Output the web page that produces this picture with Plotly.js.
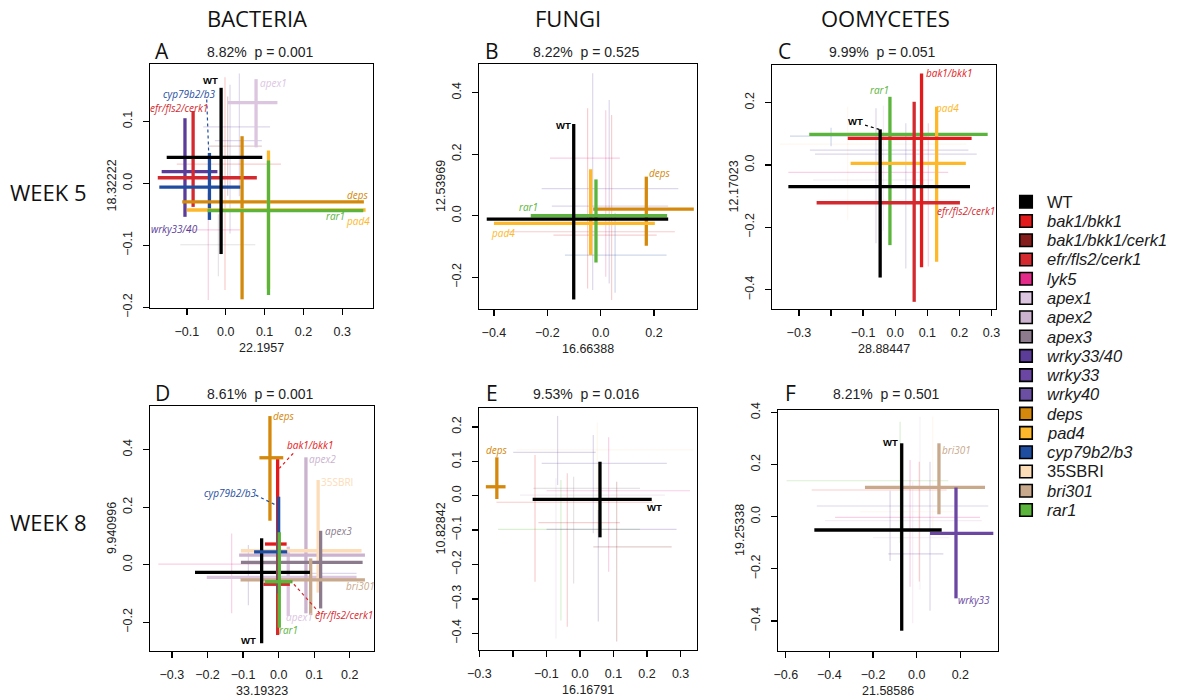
<!DOCTYPE html>
<html><head><meta charset="utf-8">
<script src="https://cdn.plot.ly/plotly-3.0.1.min.js"></script>
<style>html,body{margin:0;padding:0;background:#fff}#chart{width:1182px;height:700px}</style>
</head><body><div id="chart"></div>
<script>
const W = 1182, H = 700;

// ---------- legend ----------
const legendNames  = ['WT','bak1/bkk1','bak1/bkk1/cerk1','efr/fls2/cerk1','lyk5','apex1','apex2','apex3','wrky33/40','wrky33','wrky40','deps','pad4','cyp79b2/b3','35SBRI','bri301','rar1'];
const legendColors = ['#000000','#e31a1c','#861d1d','#d42a2f','#e52b8a','#dcc5df','#cbb2cf','#8b7b8c','#5b3d99','#6b47a3','#6a4fa2','#d4890c','#fdb92b','#1f4ea1','#fddcb8','#c9a98c','#5bb43c'];
const legendItalic = [0,1,1,1,1,1,1,1,1,1,1,1,1,1,0,1,1];

// ---------- panel A : bacteria week 5 ----------
const A_geno = ['bak1/bkk1','wrky33','wrky40','lyk5','apex3','bak1/bkk1/cerk1','apex1','wrky33/40','efr/fls2/cerk1','cyp79b2/b3','deps','pad4','rar1','WT'];
const A_bold = [0,0,0,0,0,0,1,1,1,1,1,1,1,1];
const A_cx  = [-0.002,0.011,0.035,-0.045,-0.019,0.005, 0.078,-0.105,-0.084,-0.042,0.042,0.110,0.110,-0.012];
const A_cy  = [0.031,0.069,0.091,-0.075,-0.099,0.060, 0.130,0.019,0.009,-0.006,-0.030,-0.043,-0.044,0.042];
const A_xlo = [-0.126,-0.028,-0.058,-0.100,-0.117,-0.045, 0.005,-0.165,-0.175,-0.171,-0.112,-0.100,-0.047,-0.152];
const A_xhi = [0.142,0.093,0.114,0.037,0.076,0.093, 0.133,-0.0215,0.080,0.038,0.3555,0.360,0.354,0.094];
const A_ylo = [-0.172,-0.081,-0.021,-0.188,-0.150,-0.020, 0.058,-0.054,-0.038,-0.059,-0.187,-0.170,-0.180,-0.114];
const A_yhi = [0.171,0.159,0.177,-0.016,-0.050,0.140, 0.168,0.105,0.1166,0.049,0.076,0.053,0.037,0.154];
const A_labText = ['WT','cyp79b2/b3','efr/fls2/cerk1','apex1','wrky33/40','deps','rar1','pad4'];
const A_labX = [-0.040,-0.094,-0.120,0.124,-0.133,0.340,0.283,0.340];
const A_labY = [0.166,0.1445,0.1215,0.162,-0.074,-0.019,-0.052,-0.060];
const A_leadGeno = ['cyp79b2/b3']; const A_leadX0 = [-0.049]; const A_leadY0 = [0.135]; const A_leadX1 = [-0.044]; const A_leadY1 = [0.051];
const A_xrange = [-0.195,0.379], A_yrange = [-0.201,0.1924];
const A_xticks = [-0.1,0,0.1,0.2,0.3], A_yticks = [-0.2,-0.1,0,0.1];

// ---------- panel B : fungi week 5 ----------
const B_geno = ['bak1/bkk1','wrky33','lyk5','efr/fls2/cerk1','wrky40','cyp79b2/b3','deps','pad4','rar1','WT'];
const B_bold = [0,0,0,0,0,0,1,1,1,1];
const B_cx  = [-0.049,0.032,0.019,0.041,-0.030,0.054, 0.171,-0.0375,-0.0176,-0.101];
const B_cy  = [-0.052,0.088,0.187,-0.063,0.031,-0.128, 0.0218,-0.025,0.0,-0.011];
const B_xlo = [-0.351,-0.221,-0.190,-0.177,-0.183,-0.134, -0.028,-0.40,-0.262,-0.427];
const B_xhi = [0.278,0.291,0.072,0.210,0.253,0.247, 0.349,0.203,0.249,0.253];
const B_ylo = [-0.236,-0.220,-0.198,-0.274,-0.241,-0.250, -0.0975,-0.128,-0.152,-0.272];
const B_yhi = [0.349,0.376,0.343,0.327,0.463,0.010, 0.127,0.151,0.118,0.298];
const B_labText = ['WT','rar1','pad4','deps'];
const B_labX = [-0.141,-0.272,-0.366,0.222];
const B_labY = [0.292,0.029,-0.055,0.138];
const B_leadGeno = []; const B_leadX0 = []; const B_leadY0 = []; const B_leadX1 = []; const B_leadY1 = [];
const B_xrange = [-0.456,0.361], B_yrange = [-0.303,0.493];
const B_xticks = [-0.4,-0.2,0,0.2], B_yticks = [-0.2,0,0.2,0.4];

// ---------- panel C : oomycetes week 5 ----------
const C_geno = ['35SBRI','wrky33','wrky40','lyk5','apex2','cyp79b2/b3','rar1','pad4','efr/fls2/cerk1','bak1/bkk1','WT'];
const C_bold = [0,0,0,0,0,0,1,1,1,1,1];
const C_cx  = [-0.148,-0.060,0.033,0.103,-0.037,-0.20, -0.0165,0.129,0.059,0.082,-0.047];
const C_cy  = [0.067,0.048,0.035,-0.0235,-0.048,0.093, 0.0985,0.0054,-0.121,0.0856,-0.0696];
const C_xlo = [-0.359,-0.266,-0.250,-0.333,-0.256,-0.328, -0.268,-0.139,-0.245,-0.148,-0.333];
const C_xhi = [0.222,0.228,0.254,0.165,0.118,0.10, 0.288,0.220,0.2016,0.238,0.233];
const C_ylo = [-0.176,-0.251,-0.332,-0.326,-0.21,0.06, -0.257,-0.31,-0.439,-0.328,-0.361];
const C_yhi = [0.187,0.182,0.134,0.134,0.19,0.12, 0.219,0.187,0.203,0.294,0.1145];
const C_labText = ['WT','rar1','bak1/bkk1','pad4','efr/fls2/cerk1'];
const C_labX = [-0.123,-0.048,0.167,0.160,0.219];
const C_labY = [0.141,0.241,0.294,0.182,-0.147];
const C_leadGeno = ['WT']; const C_leadX0 = [-0.094]; const C_leadY0 = [0.128]; const C_leadX1 = [-0.050]; const C_leadY1 = [0.1145];
const C_xrange = [-0.384,0.314], C_yrange = [-0.462,0.321];
const C_xticks = [-0.3,-0.2,-0.1,0,0.1,0.2,0.3], C_xskip = [-0.2], C_yticks = [-0.4,-0.2,0,0.2];

// ---------- panel D : bacteria week 8 ----------
const D_geno = ['lyk5','wrky33','apex1','apex2','35SBRI','apex3','bri301','deps','WT','bak1/bkk1','efr/fls2/cerk1','cyp79b2/b3','rar1'];
const D_bold = [0,0,1,1,1,1,1,1,1,1,1,1,1];
const D_cx  = [-0.132,-0.085, 0.027,0.0767,0.111,0.118,0.090,-0.0244,-0.0478,-0.0028,-0.0028,0.0,0.0018];
const D_cy  = [0.0024,-0.030, -0.044,0.0337,0.0487,0.0083,-0.053,0.372,-0.0266,0.072,-0.068,0.045,-0.059];
const D_xlo = [-0.338,-0.202, -0.202,-0.111,-0.106,-0.106,-0.107,-0.054,-0.235,-0.0385,-0.043,-0.069,-0.0385];
const D_xhi = [0.0037,0.219, 0.219,0.2425,0.233,0.236,0.2425,0.013,0.088,0.0225,0.0316,0.024,0.039];
const D_ylo = [-0.169,-0.141, -0.178,-0.169,-0.097,-0.152,-0.175,0.153,-0.273,-0.10,-0.2445,-0.10,-0.219];
const D_yhi = [0.109,0.0685, 0.063,0.3735,0.2946,0.118,0.022,0.517,0.092,0.367,0.12,0.2366,0.113];
const D_labText = ['deps','bak1/bkk1','apex2','35SBRI','cyp79b2/b3','apex3','bri301','efr/fls2/cerk1','apex1','rar1','WT'];
const D_labX = [0.015,0.088,0.124,0.165,-0.137,0.167,0.230,0.185,0.058,0.027,-0.085];
const D_labY = [0.517,0.418,0.369,0.289,0.250,0.117,-0.074,-0.176,-0.181,-0.227,-0.264];
const D_leadGeno = ['bak1/bkk1','cyp79b2/b3','efr/fls2/cerk1'];
const D_leadX0 = [0.041,-0.0646,0.116]; const D_leadY0 = [0.3875,0.2424,-0.169];
const D_leadX1 = [0.0018,-0.0084,0.0365]; const D_leadY1 = [0.335,0.2077,-0.059];
const D_xrange = [-0.3615,0.268], D_yrange = [-0.300,0.552];
const D_xticks = [-0.3,-0.2,-0.1,0,0.1,0.2], D_yticks = [-0.2,0,0.2,0.4];

// ---------- panel E : fungi week 8 ----------
const E_geno = ['35SBRI','wrky33','wrky40','lyk5','bak1/bkk1','rar1','efr/fls2/cerk1','apex2','bak1/bkk1/cerk1','wrky33/40','apex3','deps','WT'];
const E_bold = [0,0,0,0,0,0,0,0,0,0,0,1,1];
const E_cx  = [0.0517,-0.0667,0.0398,0.0856,-0.134,-0.0567,-0.0378,-0.0716,0.1095,0.0547,-0.0189, -0.2478,0.0597];
const E_cy  = [0.133,0.126,0.0942,0.0145,-0.019,-0.0978,-0.0785,0.002,-0.149,-0.0978,0.0214, 0.026,-0.0105];
const E_xlo = [-0.189,-0.199,-0.114,-0.0995,-0.249,-0.244,-0.124,-0.179,0.0398,-0.0995,-0.139, -0.2806,-0.141];
const E_xhi = [0.338,0.047,0.259,0.328,0.219,0.179,0.119,0.253,0.2736,0.288,0.179, -0.2218,0.214];
const E_ylo = [-0.109,0.0311,-0.1094,-0.221,-0.250,-0.363,-0.381,-0.415,-0.424,-0.366,-0.255, -0.0096,-0.121];
const E_yhi = [0.212,0.232,0.1764,0.170,0.1184,0.0457,0.065,0.0506,0.0408,-0.0415,0.055, 0.1116,0.0988];
const E_labText = ['deps','WT'];
const E_labX = [-0.248,0.221];
const E_labY = [0.133,-0.034];
const E_leadGeno = []; const E_leadX0 = []; const E_leadY0 = []; const E_leadX1 = []; const E_leadY1 = [];
const E_xrange = [-0.301,0.349], E_yrange = [-0.4485,0.255];
const E_xticks = [-0.3,-0.2,-0.1,0,0.1,0.2,0.3], E_xskip = [-0.2], E_yticks = [-0.4,-0.3,-0.2,-0.1,0,0.1,0.2];

// ---------- panel F : oomycetes week 8 ----------
const F_geno = ['rar1','bak1/bkk1','wrky40','lyk5','apex2','35SBRI','wrky33/40','apex1','bri301','wrky33','WT'];
const F_bold = [0,0,0,0,0,0,0,0,1,1,1];
const F_cx  = [-0.076,0.012,0.061,-0.0305,-0.0183,0.0732,-0.122,0.015, 0.102,0.180,-0.0687];
const F_cy  = [0.138,0.1025,0.0411,-0.00235,-0.015,0.019,-0.143,-0.08, 0.1128,-0.064,-0.051];
const F_xlo = [-0.596,-0.481,-0.458,-0.374,-0.420,-0.259,-0.130,-0.20, -0.237,0.061,-0.469];
const F_xhi = [0.145,0.137,0.328,0.290,0.298,0.168,0.122,0.15, 0.313,0.351,0.1145];
const F_ylo = [-0.10,-0.249,-0.361,-0.2686,-0.409,-0.064,-0.17,-0.28, 0.0092,-0.3134,-0.4376];
const F_yhi = [0.3648,0.211,0.211,0.218,0.1345,0.384,0.10,0.384, 0.2818,0.112,0.2818];
const F_labText = ['WT','bri301','wrky33'];
const F_labX = [-0.119,0.183,0.264];
const F_labY = [0.284,0.256,-0.320];
const F_leadGeno = []; const F_leadX0 = []; const F_leadY0 = []; const F_leadX1 = []; const F_leadY1 = [];
const F_xrange = [-0.6355,0.3725], F_yrange = [-0.5155,0.4096];
const F_xticks = [-0.6,-0.4,-0.2,0,0.2], F_yticks = [-0.4,-0.2,0,0.2,0.4];

// ---------- panel text ----------
const panelLetters = ['A','B','C','D','E','F'];
const panelStats = ['8.82%  p = 0.001','8.22%  p = 0.525','9.99%  p = 0.051','8.61%  p = 0.001','9.53%  p = 0.016','8.21%  p = 0.501'];
const xTitles = ['22.1957','16.66388','28.88447','33.19323','16.16791','21.58586'];
const yTitles = ['18.32222','12.53969','12.17023','9.940996','10.82842','19.25338'];
const columnHeads = ['BACTERIA','FUNGI','OOMYCETES'];
const rowHeads = ['WEEK 5','WEEK 8'];

// ---------- layout geometry (pixels) ----------
const boxes = [[150,373,64,308],[479,697,64,309],[772,996,65,309],[150,374,406,651],[479,697,408,650],[778,998,410,651]];

const panels = [
  {geno:A_geno,bold:A_bold,cx:A_cx,cy:A_cy,xlo:A_xlo,xhi:A_xhi,ylo:A_ylo,yhi:A_yhi,lt:A_labText,lx:A_labX,ly:A_labY,lg:A_leadGeno,lx0:A_leadX0,ly0:A_leadY0,lx1:A_leadX1,ly1:A_leadY1,xr:A_xrange,yr:A_yrange,xt:A_xticks,xs:[],yt:A_yticks},
  {geno:B_geno,bold:B_bold,cx:B_cx,cy:B_cy,xlo:B_xlo,xhi:B_xhi,ylo:B_ylo,yhi:B_yhi,lt:B_labText,lx:B_labX,ly:B_labY,lg:B_leadGeno,lx0:B_leadX0,ly0:B_leadY0,lx1:B_leadX1,ly1:B_leadY1,xr:B_xrange,yr:B_yrange,xt:B_xticks,xs:[],yt:B_yticks},
  {geno:C_geno,bold:C_bold,cx:C_cx,cy:C_cy,xlo:C_xlo,xhi:C_xhi,ylo:C_ylo,yhi:C_yhi,lt:C_labText,lx:C_labX,ly:C_labY,lg:C_leadGeno,lx0:C_leadX0,ly0:C_leadY0,lx1:C_leadX1,ly1:C_leadY1,xr:C_xrange,yr:C_yrange,xt:C_xticks,xs:C_xskip,yt:C_yticks},
  {geno:D_geno,bold:D_bold,cx:D_cx,cy:D_cy,xlo:D_xlo,xhi:D_xhi,ylo:D_ylo,yhi:D_yhi,lt:D_labText,lx:D_labX,ly:D_labY,lg:D_leadGeno,lx0:D_leadX0,ly0:D_leadY0,lx1:D_leadX1,ly1:D_leadY1,xr:D_xrange,yr:D_yrange,xt:D_xticks,xs:[],yt:D_yticks},
  {geno:E_geno,bold:E_bold,cx:E_cx,cy:E_cy,xlo:E_xlo,xhi:E_xhi,ylo:E_ylo,yhi:E_yhi,lt:E_labText,lx:E_labX,ly:E_labY,lg:E_leadGeno,lx0:E_leadX0,ly0:E_leadY0,lx1:E_leadX1,ly1:E_leadY1,xr:E_xrange,yr:E_yrange,xt:E_xticks,xs:E_xskip,yt:E_yticks},
  {geno:F_geno,bold:F_bold,cx:F_cx,cy:F_cy,xlo:F_xlo,xhi:F_xhi,ylo:F_ylo,yhi:F_yhi,lt:F_labText,lx:F_labX,ly:F_labY,lg:F_leadGeno,lx0:F_leadX0,ly0:F_leadY0,lx1:F_leadX1,ly1:F_leadY1,xr:F_xrange,yr:F_yrange,xt:F_xticks,xs:[],yt:F_yticks}
];

const colorOf = {}; legendNames.forEach((n,i)=>colorOf[n]=legendColors[i]);
function rgba(hex,a){const v=parseInt(hex.slice(1),16);return `rgba(${v>>16&255},${v>>8&255},${v&255},${a})`;}
function fmt(v){ if(Math.abs(v)<1e-9) return '0.0'; return (v<0?'\u2212':'')+Math.abs(v).toFixed(1); }
const px = x => x/W, py = y => 1 - y/H;

const ARIAL = 'Liberation Sans, Arial, Helvetica, sans-serif';
const MYR = 'Open Sans, Noto Sans, sans-serif';

const traces = [], annotations = [], layout = {
  width:W, height:H, margin:{l:0,r:0,t:0,b:0}, paper_bgcolor:'#fff', plot_bgcolor:'rgba(0,0,0,0)',
  showlegend:false, hovermode:false, annotations
};

panels.forEach((p,i)=>{
  const n = i+1, xa = n===1?'x':'x'+n, ya = n===1?'y':'y'+n;
  const b = boxes[i];
  const axCommon = {showgrid:false, zeroline:false, showline:true, mirror:true, linecolor:'#000', linewidth:1.4,
    ticks:'outside', ticklen:6, tickwidth:1.3, tickcolor:'#000', fixedrange:true,
    tickfont:{family:ARIAL,size:12.5,color:'#222'}};
  layout['xaxis'+(n===1?'':n)] = Object.assign({}, axCommon, {domain:[px(b[0]),px(b[1])], range:p.xr, anchor:ya,
    tickvals:p.xt, ticktext:p.xt.map(v=>p.xs.some(s=>Math.abs(s-v)<1e-9)?'':fmt(v)), ticklabelstandoff:6});
  layout['yaxis'+(n===1?'':n)] = Object.assign({}, axCommon, {domain:[py(b[3]),py(b[2])], range:p.yr, anchor:xa,
    tickvals:p.yt, ticktext:p.yt.map(fmt), tickangle:-90, ticklabelstandoff:6});

  // crosses
  p.geno.forEach((g,j)=>{
    const strong = p.bold[j]===1;
    const col = strong ? colorOf[g] : rgba(colorOf[g],0.22);
    const th = strong ? 3.3 : 1.2;
    traces.push({type:'scatter', mode:'markers', xaxis:xa, yaxis:ya, x:[p.cx[j]], y:[p.cy[j]],
      marker:{size:1,color:'rgba(0,0,0,0)'}, hoverinfo:'skip', cliponaxis:false,
      error_x:{type:'data',symmetric:false,array:[p.xhi[j]-p.cx[j]],arrayminus:[p.cx[j]-p.xlo[j]],color:col,thickness:th,width:0},
      error_y:{type:'data',symmetric:false,array:[p.yhi[j]-p.cy[j]],arrayminus:[p.cy[j]-p.ylo[j]],color:col,thickness:th,width:0}});
  });
  // leader lines
  p.lg.forEach((g,j)=>{
    traces.push({type:'scatter', mode:'lines', xaxis:xa, yaxis:ya, x:[p.lx0[j],p.lx1[j]], y:[p.ly0[j],p.ly1[j]],
      line:{color:colorOf[g],width:1.2,dash:'dot'}, hoverinfo:'skip'});
  });
  // labels
  p.lt.forEach((t,j)=>{
    const isWT = t==='WT', upright = t==='35SBRI';
    annotations.push({xref:xa, yref:ya, x:p.lx[j], y:p.ly[j], showarrow:false, xanchor:'center', yanchor:'middle', borderpad:0,
      text: isWT ? '<b>WT</b>' : (upright ? t : '<i>'+t+'</i>'),
      font: isWT ? {family:ARIAL,size:9.5,color:'#000'} : {family:MYR,size:10,color:colorOf[t]}});
  });
  // panel letter, stats, axis titles
  const cxp = (b[0]+b[1])/2, cyp = (b[2]+b[3])/2;
  const rowTop = i<3 ? 51 : 393;
  annotations.push({xref:'paper',yref:'paper',x:px(b[0]+12.5),y:py(rowTop-0.5),text:panelLetters[i],showarrow:false,xanchor:'center',yanchor:'middle',font:{family:MYR,size:21,color:'#111'}});
  annotations.push({xref:'paper',yref:'paper',x:px(cxp-2),y:py(rowTop+1),text:panelStats[i],showarrow:false,xanchor:'center',yanchor:'middle',font:{family:ARIAL,size:14,color:'#222'}});
  annotations.push({xref:'paper',yref:'paper',x:px(cxp),y:py(b[3]+40),text:xTitles[i],showarrow:false,xanchor:'center',yanchor:'middle',font:{family:ARIAL,size:12.5,color:'#222'}});
  annotations.push({xref:'paper',yref:'paper',x:px(b[0]-38.5),y:py(cyp),text:yTitles[i],textangle:-90,showarrow:false,xanchor:'center',yanchor:'middle',font:{family:ARIAL,size:12.5,color:'#222'}});
});

// column and row headers
[257,568,885].forEach((x,k)=>annotations.push({xref:'paper',yref:'paper',x:px(x),y:py(18),text:columnHeads[k],showarrow:false,xanchor:'center',yanchor:'middle',font:{family:MYR,size:22,color:'#111'}}));
[192,522].forEach((y,k)=>annotations.push({xref:'paper',yref:'paper',x:px(48.5),y:py(y),text:rowHeads[k],showarrow:false,xanchor:'center',yanchor:'middle',font:{family:MYR,size:22,color:'#111'}}));

// legend on its own hidden axes
layout.xaxis7 = {domain:[px(1000),1], range:[0,182], visible:false, fixedrange:true, anchor:'y7'};
layout.yaxis7 = {domain:[py(520),py(190)], range:[16.52,-0.607], visible:false, fixedrange:true, anchor:'x7'};
traces.push({type:'scatter', mode:'markers', xaxis:'x7', yaxis:'y7', x:legendNames.map(()=>26), y:legendNames.map((_,i)=>i),
  marker:{symbol:'square', size:12.5, color:legendColors, line:{color:'#000',width:1.6}}, hoverinfo:'skip'});
legendNames.forEach((nm,i)=>annotations.push({xref:'x7',yref:'y7',x:45,y:i,xanchor:'left',yanchor:'middle',showarrow:false,
  text: legendItalic[i] ? '<i>'+nm+'</i>' : nm, font:{family:ARIAL,size:16.5,color:'#1a1a1a'}}));

Plotly.newPlot('chart', traces, layout, {staticPlot:true, displayModeBar:false});
</script>
</body></html>
